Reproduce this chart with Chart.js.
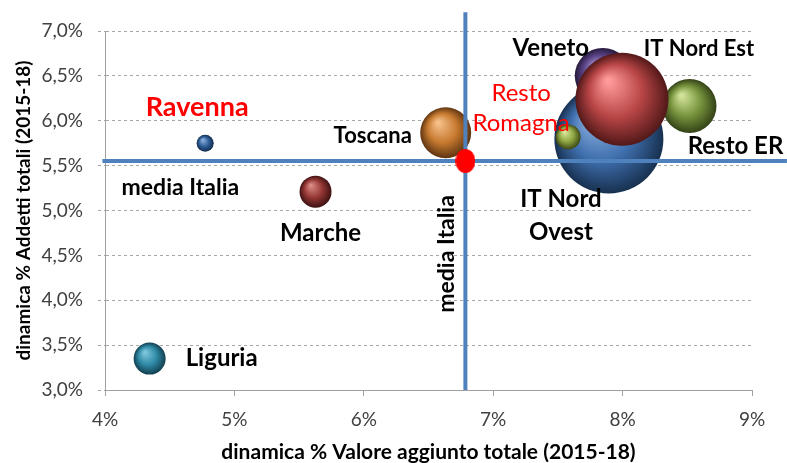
<!DOCTYPE html>
<html>
<head>
<meta charset="utf-8">
<script src="https://cdn.jsdelivr.net/npm/chart.js@4.4.1/dist/chart.umd.min.js"></script>
<style>
  html, body { margin: 0; padding: 0; background: #fff; }
  #wrap { width: 787px; height: 463px; }
</style>
</head>
<body>
<div id="wrap"><canvas id="chart" width="787" height="463"></canvas></div>
<script>
// data
const regions = ["Liguria", "Marche", "Ravenna", "Toscana", "IT Nord Ovest", "Resto Romagna", "Veneto", "Resto ER", "IT Nord Est"];
const valoreAggiunto = [4.345, 5.627, 4.774, 6.633, 7.894, 7.579, 7.847, 8.517, 7.995]; // x, %
const addetti = [3.35, 5.21, 5.749, 5.867, 5.797, 5.82, 6.499, 6.164, 6.24];          // y, %
const bubbleSize = [16, 16, 8.5, 25.5, 54.5, 12.5, 28, 27, 46.5];
const mediaItaliaX = 6.785;
const mediaItaliaY = 5.552;
const mediaLineX = [3.98, 9.27];
const mediaLineY = [3.0, 7.21];
const xTicks = [4, 5, 6, 7, 8, 9];
const yTicks = [3.0, 3.5, 4.0, 4.5, 5.0, 5.5, 6.0, 6.5, 7.0];

// sphere colours: [light, base, dark]
const sphereColors = {
  "Liguria": ["#7fc6dc", "#2f8aa6", "#123f50"],
  "Marche": ["#d98a85", "#943634", "#3e1211"],
  "Ravenna": ["#8fb0dc", "#2f5f9a", "#112a4a"],
  "Toscana": ["#f6c08a", "#c77a30", "#5e3411"],
  "IT Nord Ovest": ["#8fb2e0", "#3f6fae", "#17304f"],
  "Resto Romagna": ["#d9e89a", "#8fa642", "#3d4a16"],
  "Veneto": ["#9a86c2", "#574183", "#261a3c"],
  "Resto ER": ["#d2e49a", "#76923c", "#334217"],
  "IT Nord Est": ["#ff9a9a", "#b84546", "#521818"]
};

// text labels: anchor + pixel offset
const labelDefs = [
  { at: "Ravenna", lines: ["Ravenna"], dx: -8, dy: -36, size: 27, color: "#ff0000" },
  { at: "media", lines: ["media Italia"], dx: -285, dy: 27, size: 23, color: "#000" },
  { at: "media", lines: ["media Italia"], dx: -19, dy: 93, size: 23, color: "#000", rotate: true },
  { at: "Marche", lines: ["Marche"], dx: 5, dy: 42, size: 24, color: "#000" },
  { at: "Liguria", lines: ["Liguria"], dx: 72, dy: 0, size: 24, color: "#000" },
  { at: "Toscana", lines: ["Toscana"], dx: -73, dy: 3, size: 22, color: "#000" },
  { at: "Resto Romagna", lines: ["Resto", "Romagna"], dx: -47, dy: -44, size: 24, color: "#ff0000", gap: 30, weight: "normal" },
  { at: "IT Nord Ovest", lines: ["IT Nord", "Ovest"], dx: -48, dy: 60, size: 24, color: "#000", gap: 33 },
  { at: "Veneto", lines: ["Veneto"], dx: -52, dy: -28, size: 24, color: "#000" },
  { at: "IT Nord Est", lines: ["IT Nord Est"], dx: 77, dy: -50, size: 22, color: "#000" },
  { at: "Resto ER", lines: ["Resto ER"], dx: 46, dy: 40, size: 24, color: "#000" }
];

const FONT = "Lato, 'Open Sans', sans-serif";
Chart.defaults.font.family = FONT;

function sphere(ctx) {
  const chart = ctx.chart;
  const name = regions[ctx.dataIndex];
  const cols = sphereColors[name] || ["#999", "#666", "#333"];
  if (!chart.chartArea || !ctx.raw) return cols[1];
  const x = chart.scales.x.getPixelForValue(ctx.raw.x);
  const y = chart.scales.y.getPixelForValue(ctx.raw.y);
  const r = ctx.raw.r;
  const g = chart.ctx.createRadialGradient(x - r * 0.3, y - r * 0.4, r * 0.05, x, y, r);
  g.addColorStop(0, cols[0]);
  g.addColorStop(0.55, cols[1]);
  g.addColorStop(1, cols[2]);
  return g;
}

// red ellipse marker for the national average
const dot = document.createElement("canvas");
dot.width = 20; dot.height = 24;
(function () {
  const c = dot.getContext("2d");
  c.fillStyle = "#ff0000";
  c.beginPath();
  c.ellipse(10, 12, 10, 12, 0, 0, Math.PI * 2);
  c.fill();
})();

const labelPlugin = {
  id: "labels",
  afterDatasetsDraw(chart) {
    const { ctx, scales } = chart;
    labelDefs.forEach((d) => {
      let px, py;
      if (d.at === "media") {
        px = scales.x.getPixelForValue(mediaItaliaX);
        py = scales.y.getPixelForValue(mediaItaliaY);
      } else {
        const i = regions.indexOf(d.at);
        px = scales.x.getPixelForValue(valoreAggiunto[i]);
        py = scales.y.getPixelForValue(addetti[i]);
      }
      ctx.save();
      ctx.font = (d.weight || "bold") + " " + d.size + "px " + FONT;
      ctx.fillStyle = d.color;
      ctx.textAlign = "center";
      ctx.textBaseline = "middle";
      ctx.translate(px + d.dx, py + d.dy);
      if (d.rotate) ctx.rotate(-Math.PI / 2);
      d.lines.forEach((t, k) => ctx.fillText(t, 0, k * (d.gap || 0)));
      ctx.restore();
    });
  }
};

function drawChart() {
  new Chart(document.getElementById("chart"), {
    type: "bubble",
    data: {
      datasets: [
        {
          type: "scatter",
          data: [{ x: mediaItaliaX, y: mediaItaliaY }],
          pointStyle: dot,
          order: 0,
          clip: false
        },
        {
          type: "line",
          data: mediaLineX.map((x) => ({ x: x, y: mediaItaliaY })),
          borderColor: "#4f81bd",
          borderWidth: 4,
          pointRadius: 0,
          order: 1,
          clip: false
        },
        {
          type: "line",
          data: mediaLineY.map((y) => ({ x: mediaItaliaX, y: y })),
          borderColor: "#4f81bd",
          borderWidth: 4,
          pointRadius: 0,
          order: 1,
          clip: false
        },
        {
          data: regions.map((n, i) => ({ x: valoreAggiunto[i], y: addetti[i], r: bubbleSize[i] })),
          backgroundColor: sphere,
          borderWidth: 0,
          order: 2
        }
      ]
    },
    options: {
      responsive: false,
      animation: false,
      devicePixelRatio: 1,
      layout: { autoPadding: false, padding: { top: 31, right: 35, left: 0, bottom: 0 } },
      plugins: { legend: { display: false }, tooltip: { enabled: false } },
      scales: {
        x: {
          type: "linear",
          min: 4,
          max: 9,
          afterBuildTicks: (s) => { s.ticks = xTicks.map((v) => ({ value: v })); },
          afterFit: (s) => { s.height = 73; },
          ticks: {
            callback: (v) => v + "%",
            font: { size: 19 },
            color: "#404040",
            padding: 12,
            maxRotation: 0
          },
          grid: { drawOnChartArea: false, drawTicks: true, tickLength: 6, tickColor: "#a0a0a0" },
          border: { color: "#a0a0a0", width: 1 },
          title: {
            display: true,
            text: "dinamica % Valore aggiunto totale (2015-18)",
            font: { size: 21, weight: "bold", lineHeight: 1 },
            color: "#000",
            padding: { top: 0, bottom: 0 }
          }
        },
        y: {
          type: "linear",
          min: 3,
          max: 7,
          afterBuildTicks: (s) => { s.ticks = yTicks.map((v) => ({ value: v })); },
          afterFit: (s) => { s.width = 105; },
          ticks: {
            callback: (v) => v.toFixed(1).replace(".", ",") + "%",
            font: { size: 19 },
            color: "#404040",
            padding: 15
          },
          grid: { color: "#a6a6a6", lineWidth: 1, drawTicks: true, tickLength: 7, tickColor: "#a6a6a6", tickBorderDash: [3, 3] },
          border: { color: "#a0a0a0", width: 1, dash: [3, 3] },
          title: {
            display: true,
            text: "dinamica % Addetti totali (2015-18)",
            font: { size: 19, weight: "bold", lineHeight: 1 },
            color: "#000",
            padding: { top: 14, bottom: 0 }
          }
        }
      }
    },
    plugins: [labelPlugin]
  });
}

Promise.all([
  document.fonts.load("bold 20px Lato"),
  document.fonts.load("20px Lato")
]).then(drawChart, drawChart);
</script>
</body>
</html>
